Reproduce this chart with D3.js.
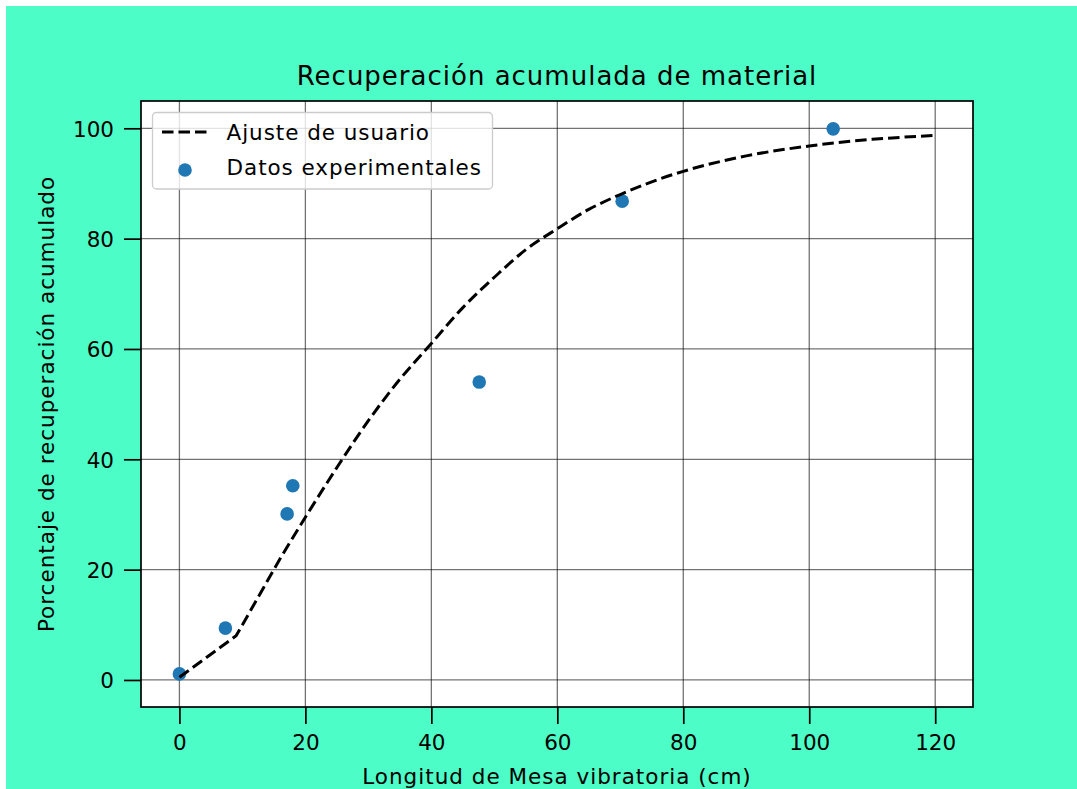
<!DOCTYPE html>
<html>
<head>
<meta charset="utf-8">
<script src="https://cdn.jsdelivr.net/npm/d3@7"></script>
<style>
  body { margin: 0; background: #ffffff; }
  svg { display: block; }
  text { font-family: "DejaVu Sans", sans-serif; fill: #000; }
</style>
</head>
<body>
<svg id="drawing_region"></svg>
<script>
// experimental points
const exp_x = [0, 7.3, 17.1, 18.0, 47.6, 70.3, 103.8];
const exp_y = [1.1, 9.4, 30.1, 35.2, 54.0, 86.8, 99.9];

// user fit curve
const fit_x = [0, 9, 12, 16, 20, 25, 30, 35, 40, 45, 50, 55, 60, 65, 70, 75, 80, 90, 100, 110, 120];
const fit_y = [0.5, 8, 14, 22, 29.5, 38.5, 47, 54.5, 61, 67.5, 73, 78, 81.8, 85.3, 88, 90.3, 92.2, 95, 96.8, 98, 98.7];

const x_ticks = [0, 20, 40, 60, 80, 100, 120];
const y_ticks = [0, 20, 40, 60, 80, 100];

const title_text = "Recuperación acumulada de material";
const x_label = "Longitud de Mesa vibratoria (cm)";
const y_label = "Porcentaje de recuperación acumulado";
const legend_labels = ["Ajuste de usuario", "Datos experimentales"];

class FitChart {

    constructor( config ) {
        this.config = config;
        this.points = exp_x.map( (x, i) => ({x: x, y: exp_y[i]}) );
        this.curve = fit_x.map( (x, i) => ({x: x, y: fit_y[i]}) );
        this.init();
    }

    init() {
        let self = this;
        const c = self.config;

        self.svg = d3.select( c.parent )
            .attr('width', c.width)
            .attr('height', c.height);

        // green figure background, offset by a thin white strip
        self.svg.append('rect')
            .attr('x', 6).attr('y', 6)
            .attr('width', c.width - 6).attr('height', c.height - 6)
            .attr('fill', '#4dfdc7');

        self.xscale = d3.scaleLinear()
            .domain([-6.1, 126])
            .range([c.left, c.right]);

        self.yscale = d3.scaleLinear()
            .domain([-4.9, 104.95])
            .range([c.bottom, c.top]);

        self.svg.append('rect')
            .attr('x', c.left).attr('y', c.top)
            .attr('width', c.right - c.left).attr('height', c.bottom - c.top)
            .attr('fill', '#ffffff');

        // smooth part of the fit; the first segment stays straight
        self.line = d3.line()
            .x( d => self.xscale(d.x) )
            .y( d => self.yscale(d.y) )
            .curve(d3.curveMonotoneX);
    }

    render() {
        let self = this;
        const c = self.config;

        // grid
        self.svg.append('g').selectAll('line.gx')
            .data(x_ticks).join('line')
            .attr('x1', d => self.xscale(d)).attr('x2', d => self.xscale(d))
            .attr('y1', c.top).attr('y2', c.bottom)
            .attr('stroke', '#000').attr('stroke-opacity', 0.55).attr('stroke-width', 1.3);

        self.svg.append('g').selectAll('line.gy')
            .data(y_ticks).join('line')
            .attr('y1', d => self.yscale(d)).attr('y2', d => self.yscale(d))
            .attr('x1', c.left).attr('x2', c.right)
            .attr('stroke', '#000').attr('stroke-opacity', 0.55).attr('stroke-width', 1.3);

        // scatter
        self.svg.append('g').selectAll('circle')
            .data(self.points).join('circle')
            .attr('cx', d => self.xscale(d.x))
            .attr('cy', d => self.yscale(d.y))
            .attr('r', 6.8)
            .attr('fill', '#1f77b4');

        // fit line
        const p0 = self.curve[0];
        const rest = self.line(self.curve.slice(1)).replace(/^M/, 'L');
        self.svg.append('path')
            .attr('d', `M${self.xscale(p0.x)},${self.yscale(p0.y)}` + rest)
            .attr('fill', 'none')
            .attr('stroke', '#000')
            .attr('stroke-width', 3)
            .attr('stroke-dasharray', '11.5,5');

        // frame
        self.svg.append('rect')
            .attr('x', c.left).attr('y', c.top)
            .attr('width', c.right - c.left).attr('height', c.bottom - c.top)
            .attr('fill', 'none').attr('stroke', '#000').attr('stroke-width', 1.7);

        // axes
        const xaxis = d3.axisBottom(self.xscale)
            .tickValues(x_ticks).tickSize(17).tickPadding(11);
        const xg = self.svg.append('g')
            .attr('transform', `translate(0, ${c.bottom})`)
            .call(xaxis);

        const yaxis = d3.axisLeft(self.yscale)
            .tickValues(y_ticks).tickSize(17).tickPadding(10);
        const yg = self.svg.append('g')
            .attr('transform', `translate(${c.left}, 0)`)
            .call(yaxis);

        [xg, yg].forEach( g => {
            g.select('.domain').remove();
            g.selectAll('.tick line').attr('stroke', '#000').attr('stroke-width', 1.7);
            g.selectAll('.tick text')
                .attr('font-family', '"DejaVu Sans", sans-serif')
                .attr('font-size', 21.5)
                .attr('fill', '#000');
        });
        yg.selectAll('.tick text').attr('dy', '0.36em');

        const cx = (c.left + c.right) / 2;
        self.svg.append('text')
            .attr('x', cx).attr('y', 85)
            .attr('text-anchor', 'middle')
            .attr('font-size', 26)
            .attr('letter-spacing', 1.0)
            .text(title_text);

        self.svg.append('text')
            .attr('x', cx).attr('y', 784)
            .attr('text-anchor', 'middle')
            .attr('font-size', 21.5)
            .attr('letter-spacing', 1.0)
            .text(x_label);

        self.svg.append('text')
            .attr('transform', `translate(54, ${(c.top + c.bottom) / 2}) rotate(-90)`)
            .attr('text-anchor', 'middle')
            .attr('font-size', 21.5)
            .attr('letter-spacing', 1.0)
            .text(y_label);

        // legend
        const lg = self.svg.append('g');
        lg.append('rect')
            .attr('x', 152.5).attr('y', 112.5)
            .attr('width', 340).attr('height', 76.5)
            .attr('rx', 4).attr('ry', 4)
            .attr('fill', '#ffffff').attr('fill-opacity', 0.8)
            .attr('stroke', '#cccccc').attr('stroke-width', 1.3);

        lg.append('line')
            .attr('x1', 162).attr('x2', 207)
            .attr('y1', 132).attr('y2', 132)
            .attr('stroke', '#000').attr('stroke-width', 3)
            .attr('stroke-dasharray', '11.5,5');

        lg.append('circle')
            .attr('cx', 185).attr('cy', 170).attr('r', 6.8)
            .attr('fill', '#1f77b4');

        lg.selectAll('text')
            .data(legend_labels).join('text')
            .attr('x', 226.5)
            .attr('y', (d, i) => 140 + i * 35)
            .attr('font-size', 21.5)
            .attr('letter-spacing', 0.95)
            .text(d => d);
    }
}

const chart = new FitChart({
    parent: '#drawing_region',
    width: 1077,
    height: 789,
    left: 141, right: 973, top: 101, bottom: 707
});
chart.render();
</script>
</body>
</html>
